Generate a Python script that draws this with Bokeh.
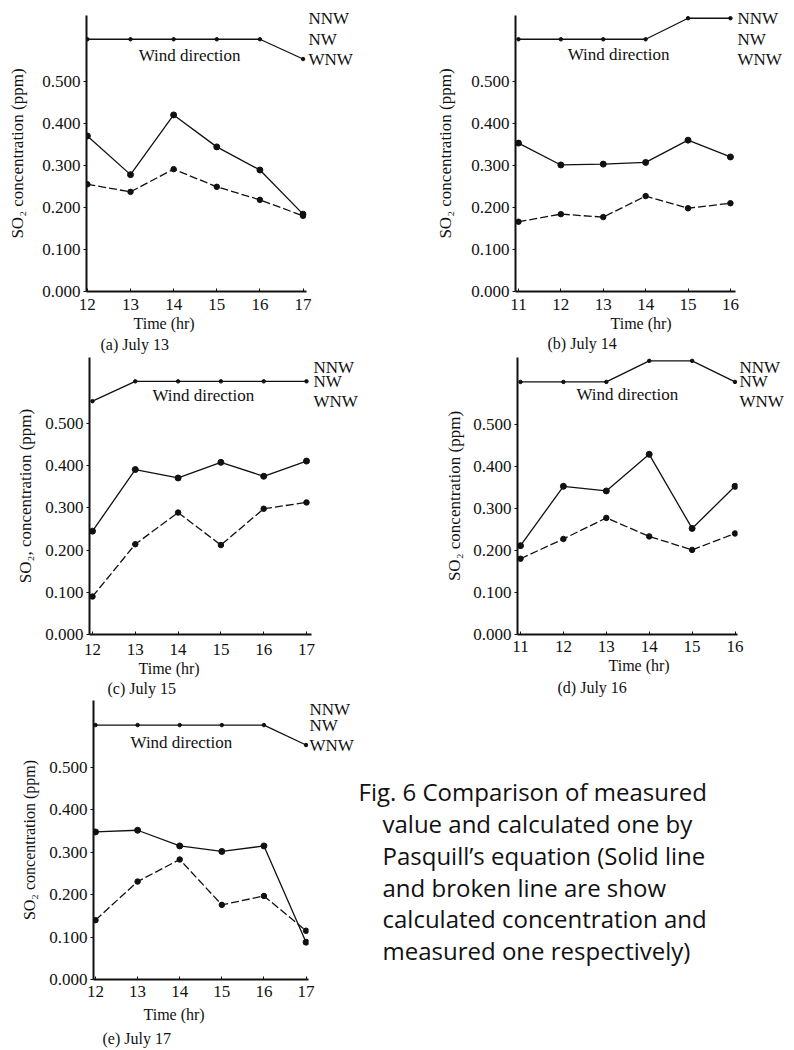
from bokeh.plotting import figure
from bokeh.models import Range1d, FixedTicker, PrintfTickFormatter, Title, Label, LinearAxis
from bokeh.layouts import column, row
from bokeh.embed import file_html
from bokeh.resources import INLINE

# ---------------- data ----------------
hours_a = [12, 13, 14, 15, 16, 17]
calc_a = [0.370, 0.278, 0.420, 0.344, 0.289, 0.184]
meas_a = [0.255, 0.237, 0.291, 0.249, 0.218, 0.180]
wind_a = ["NW", "NW", "NW", "NW", "NW", "WNW"]

hours_b = [11, 12, 13, 14, 15, 16]
calc_b = [0.353, 0.301, 0.303, 0.307, 0.360, 0.320]
meas_b = [0.166, 0.184, 0.177, 0.227, 0.198, 0.210]
wind_b = ["NW", "NW", "NW", "NW", "NNW", "NNW"]

hours_c = [12, 13, 14, 15, 16, 17]
calc_c = [0.245, 0.391, 0.371, 0.408, 0.375, 0.411]
meas_c = [0.090, 0.214, 0.289, 0.212, 0.298, 0.313]
wind_c = ["WNW", "NW", "NW", "NW", "NW", "NW"]

hours_d = [11, 12, 13, 14, 15, 16]
calc_d = [0.211, 0.352, 0.341, 0.428, 0.252, 0.352]
meas_d = [0.180, 0.227, 0.277, 0.233, 0.201, 0.240]
wind_d = ["NW", "NW", "NW", "NNW", "NNW", "NW"]

hours_e = [12, 13, 14, 15, 16, 17]
calc_e = [0.348, 0.352, 0.315, 0.302, 0.315, 0.088]
meas_e = [0.140, 0.231, 0.283, 0.176, 0.197, 0.115]
wind_e = ["NW", "NW", "NW", "NW", "NW", "WNW"]

y_ticks = [0.0, 0.1, 0.2, 0.3, 0.4, 0.5]
wind_names = ["NNW", "NW", "WNW"]
captions = ["(a) July 13", "(b) July 14", "(c) July 15", "(d) July 16", "(e) July 17"]
y_labels = ["SO\u2082 concentration (ppm)", "SO\u2082 concentration (ppm)",
            "SO\u2082, concentration (ppm)", "SO\u2082 concentration (ppm)",
            "SO\u2082 concentration (ppm)"]
time_label = "Time (hr)"
wind_title = "Wind direction"
fig_caption = ["Fig. 6  Comparison of measured",
               "value and calculated one by",
               "Pasquill\u2019s equation (Solid line",
               "and broken line are show",
               "calculated concentration and",
               "measured one respectively)"]

# wind direction levels placed on the concentration scale (layout)
WIND_LEVEL = {"NNW": 0.650, "NW": 0.600, "WNW": 0.553}

SERIF = "Liberation Serif"
INK = "#111111"


def panel(hours, calc, meas, wind, ylabel, caption, g):
    p = figure(width=g["w"], height=g["h"],
               x_range=Range1d(*g["xr"]), y_range=Range1d(*g["yr"]),
               min_border_left=g["l"], min_border_right=g["r"],
               min_border_top=g["t"], min_border_bottom=g["b"],
               output_backend="svg", toolbar_location=None)
    p.outline_line_color = None
    p.xgrid.visible = False
    p.ygrid.visible = False

    xa = p.xaxis[0]
    xa.ticker = FixedTicker(ticks=hours)
    xa.axis_line_width = 2
    xa.axis_line_color = INK
    xa.major_tick_in = 3
    xa.major_tick_out = 0
    xa.major_tick_line_color = INK
    xa.minor_tick_line_color = None
    xa.major_label_standoff = g["xs"]
    xa.major_label_text_font = SERIF
    xa.major_label_text_font_size = "17px"
    xa.major_label_text_color = INK

    ya = p.yaxis[0]
    ya.ticker = FixedTicker(ticks=y_ticks)
    ya.formatter = PrintfTickFormatter(format="%.3f")
    ya.axis_line_width = 2
    ya.axis_line_color = INK
    ya.major_tick_in = 0
    ya.major_tick_out = 3
    ya.major_tick_line_color = INK
    ya.minor_tick_line_color = None
    ya.major_label_standoff = 3
    ya.major_label_text_font = SERIF
    ya.major_label_text_font_size = "17px"
    ya.major_label_text_color = INK
    ya.axis_label = ylabel
    ya.axis_label_text_font = SERIF
    ya.axis_label_text_font_size = g["yfs"]
    ya.axis_label_text_font_style = "normal"
    ya.axis_label_text_color = INK
    ya.axis_label_standoff = g["ys"]

    # wind-direction axis on the right
    wa = LinearAxis(ticker=FixedTicker(ticks=[WIND_LEVEL[n] for n in wind_names]),
                    major_label_overrides={WIND_LEVEL[n]: n for n in wind_names})
    wa.axis_line_color = None
    wa.major_tick_line_color = None
    wa.minor_tick_line_color = None
    wa.major_tick_in = 0
    wa.major_tick_out = 0
    wa.major_label_standoff = g["ws"]
    wa.major_label_text_font = SERIF
    wa.major_label_text_font_size = "17px"
    wa.major_label_text_color = INK
    p.add_layout(wa, "right")

    # series
    p.line(hours, calc, line_color=INK, line_width=1.3)
    p.scatter(hours, calc, size=6, color=INK)
    p.line(hours, meas, line_color=INK, line_width=1.3, line_dash="8 3")
    p.scatter(hours, meas, size=5.5, color=INK)
    wl = [WIND_LEVEL[w] for w in wind]
    p.line(hours, wl, line_color=INK, line_width=1.3)
    p.scatter(hours, wl, size=3.5, color=INK)

    p.add_layout(Label(x=g["wt"][0], y=g["wt"][1], text=wind_title,
                       text_font=SERIF, text_font_size="17px", text_color=INK,
                       text_align="center", text_baseline="middle"))

    p.add_layout(Title(text=time_label, align="left", offset=g["to"],
                       standoff=g["ts"], vertical_align="middle",
                       text_font=SERIF, text_font_size="16px",
                       text_font_style="normal", text_color=INK), "below")
    p.add_layout(Title(text=caption, align="left", offset=g["co"],
                       standoff=g["cs"], vertical_align="middle",
                       text_font=SERIF, text_font_size="16px",
                       text_font_style="normal", text_color=INK), "below")
    return p


geo = {
    "a": dict(w=400, h=357, l=86, r=94, t=15, b=63, xr=(11.98, 17.08), yr=(0, 0.6565),
              xs=7, ys=12, yfs="17px", to=47, ts=2, co=14, cs=2, ws=2, wt=(14.37, 0.562)),
    "b": dict(w=394, h=357, l=115, r=59, t=10, b=66, xr=(10.93, 16.12), yr=(0, 0.6565),
              xs=7, ys=13, yfs="17px", to=95, ts=2, co=32, cs=0, ws=2, wt=(13.36, 0.563)),
    "c": dict(w=400, h=342, l=89, r=89, t=0, b=63, xr=(11.93, 17.117), yr=(0, 0.6565),
              xs=9, ys=7, yfs="17px", to=49, ts=2, co=18, cs=0, ws=2, wt=(14.59, 0.567)),
    "d": dict(w=394, h=342, l=117, r=57, t=0, b=65, xr=(10.93, 16.058), yr=(0, 0.658),
              xs=6, ys=6, yfs="17px", to=91, ts=2, co=40, cs=4, ws=2, wt=(13.49, 0.569)),
    "e": dict(w=356, h=350, l=93, r=45, t=1, b=70, xr=(11.953, 17.058), yr=(0, 0.658),
              xs=6, ys=8, yfs="16px", to=50, ts=10, co=9, cs=0, ws=1, wt=(14.04, 0.560)),
}

pa = panel(hours_a, calc_a, meas_a, wind_a, y_labels[0], captions[0], geo["a"])
pb = panel(hours_b, calc_b, meas_b, wind_b, y_labels[1], captions[1], geo["b"])
pc = panel(hours_c, calc_c, meas_c, wind_c, y_labels[2], captions[2], geo["c"])
pd = panel(hours_d, calc_d, meas_d, wind_d, y_labels[3], captions[3], geo["d"])
pe = panel(hours_e, calc_e, meas_e, wind_e, y_labels[4], captions[4], geo["e"])

# figure caption block (pixel-like coordinates, y pointing down)
cap = figure(width=438, height=350, x_range=Range1d(0, 438), y_range=Range1d(350, 0),
             x_axis_type=None, y_axis_type=None, min_border=0,
             output_backend="svg", toolbar_location=None)
cap.outline_line_color = None
cap.xgrid.visible = False
cap.ygrid.visible = False
line_x = [2, 26, 26, 26, 26, 26]
line_y = [114, 154, 194, 234, 273, 313]
for txt, lx, ly in zip(fig_caption, line_x, line_y):
    cap.add_layout(Label(x=lx, y=ly, text=txt, text_font="Open Sans",
                         text_font_size="24px", text_color=INK,
                         text_align="left", text_baseline="middle"))

layout = column(row(pa, pb), row(pc, pd), row(pe, cap))

with open("out.html", "w") as f:
    f.write(file_html(layout, INLINE))
